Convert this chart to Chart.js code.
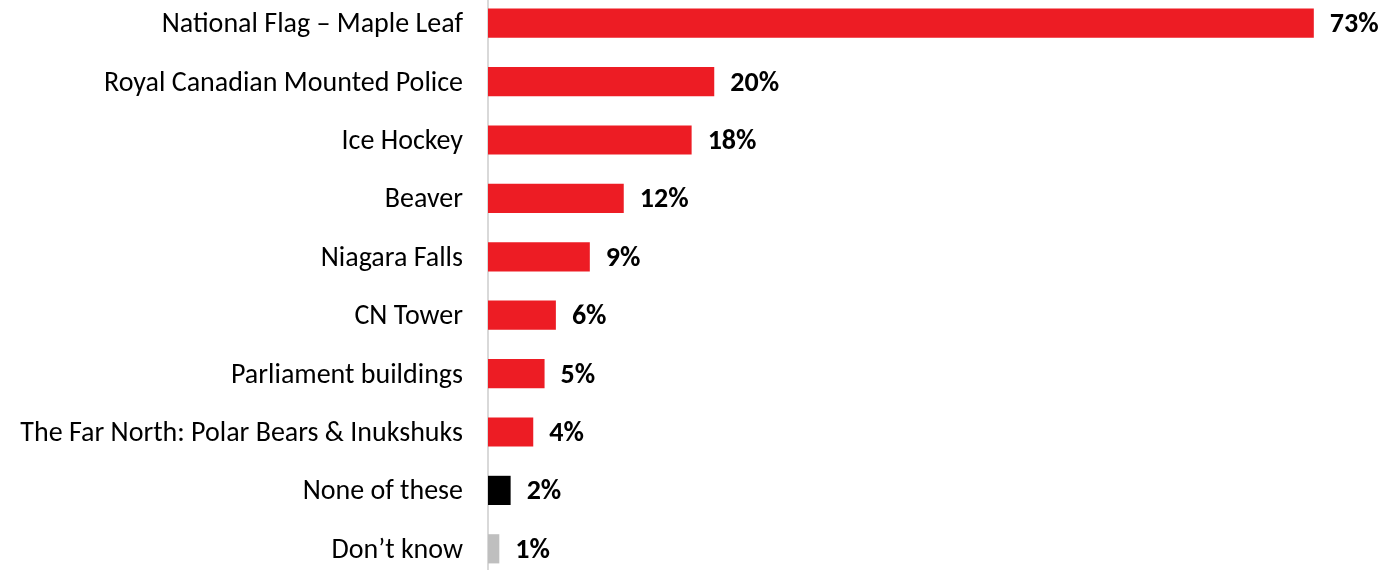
<!DOCTYPE html>
<html>
<head>
<meta charset="utf-8">
<script src="https://cdn.jsdelivr.net/npm/chart.js@4.4.1/dist/chart.umd.min.js"></script>
<style>
  html, body { margin: 0; padding: 0; background: #fff; overflow: hidden; }
  #wrap { position: absolute; left: 0; top: -6px; width: 1394px; height: 584px; }
</style>
</head>
<body>
<div id="wrap"><canvas id="symbolsChart"></canvas></div>
<script>
// Symbols most associated with Canada (% of respondents)
const categories = [
    'National Flag \u2013 Maple Leaf',
    'Royal Canadian Mounted Police',
    'Ice Hockey',
    'Beaver',
    'Niagara Falls',
    'CN Tower',
    'Parliament buildings',
    'The Far North: Polar Bears & Inukshuks',
    'None of these',
    'Don\u2019t know'
];
const percentages = [73, 20, 18, 12, 9, 6, 5, 4, 2, 1];
const barColors = [
    '#ED1C24', '#ED1C24', '#ED1C24', '#ED1C24', '#ED1C24',
    '#ED1C24', '#ED1C24', '#ED1C24', '#000000', '#BFBFBF'
];

const FONT = 'Carlito, Lato, sans-serif';

// draws the "73%" style labels just past the end of each bar
const valueLabels = {
    id: 'valueLabels',
    afterDatasetsDraw(chart) {
        const ctx = chart.ctx;
        const meta = chart.getDatasetMeta(0);
        ctx.save();
        ctx.font = 'bold 28px ' + FONT;
        ctx.fillStyle = '#000';
        ctx.textBaseline = 'middle';
        ctx.textAlign = 'left';
        meta.data.forEach((bar, i) => {
            ctx.fillText(percentages[i] + '%', bar.x + 16, bar.y + 2);
        });
        ctx.restore();
    }
};

const ctx = document.getElementById('symbolsChart').getContext('2d');
const chart = new Chart(ctx, {
    type: 'bar',
    data: {
        labels: categories,
        datasets: [{
            data: percentages,
            backgroundColor: barColors,
            borderWidth: 0,
            categoryPercentage: 1,
            barPercentage: 0.5
        }]
    },
    plugins: [valueLabels],
    options: {
        indexAxis: 'y',
        responsive: true,
        maintainAspectRatio: false,
        animation: false,
        layout: { padding: { top: 0, bottom: 0, left: 0, right: 1 } },
        plugins: {
            legend: { display: false },
            tooltip: { enabled: false }
        },
        scales: {
            x: {
                display: false,
                min: 0,
                max: 80
            },
            y: {
                afterFit(scale) {
                    scale.width = 488;
                    scale.paddingTop = 0;
                    scale.paddingBottom = 0;
                },
                grid: { display: false, drawTicks: false },
                border: { display: true, color: '#D9D9D9', width: 2 },
                ticks: {
                    padding: 25,
                    labelOffset: 2,
                    color: '#000',
                    font: { family: FONT, size: 28 }
                }
            }
        }
    }
});
</script>
</body>
</html>
